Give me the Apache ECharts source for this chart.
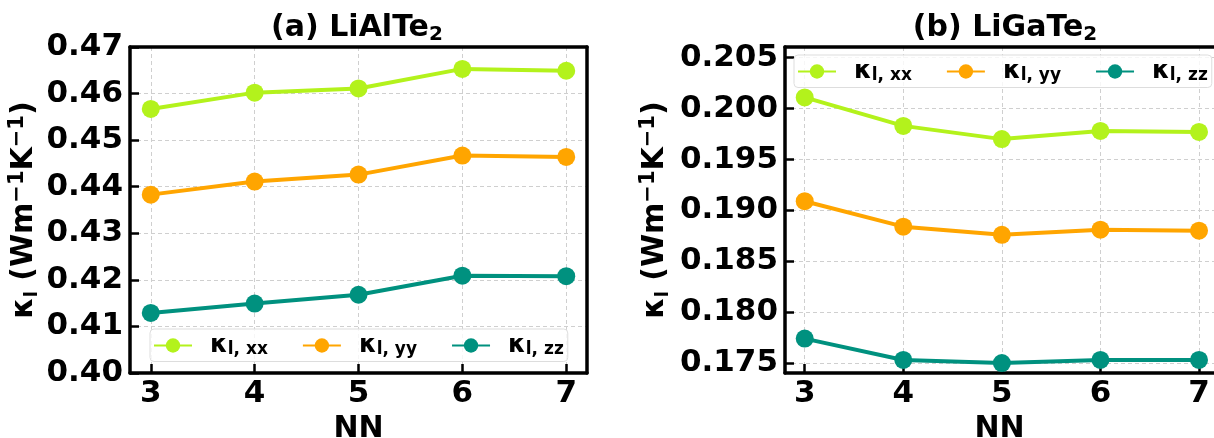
<!DOCTYPE html>
<html>
<head>
<meta charset="utf-8">
<script src="https://cdn.jsdelivr.net/npm/echarts@6/dist/echarts.min.js"></script>
<style>
html,body{margin:0;padding:0;background:#fff;}
#c{width:1214px;height:438px;}
</style>
</head>
<body>
<div id="c"></div>
<script>
// ---- data ----
const NN = [3, 4, 5, 6, 7];
const lialte_xx = [0.4567, 0.4602, 0.4611, 0.4653, 0.4649];
const lialte_yy = [0.4383, 0.4411, 0.4426, 0.4467, 0.4464];
const lialte_zz = [0.4129, 0.4149, 0.4168, 0.4209, 0.4208];
const ligate_xx = [0.2011, 0.1983, 0.1970, 0.1978, 0.1977];
const ligate_yy = [0.1909, 0.1884, 0.1876, 0.1881, 0.1880];
const ligate_zz = [0.1774, 0.1753, 0.1750, 0.1753, 0.1753];
const yTicksA = [0.40, 0.41, 0.42, 0.43, 0.44, 0.45, 0.46, 0.47];
const yTicksB = [0.175, 0.180, 0.185, 0.190, 0.195, 0.200, 0.205];
const colors = ['#b3f21c', '#ffa500', '#00917f'];

const font = '"DejaVu Sans", sans-serif';
const pairs = arr => NN.map((x, i) => [x, arr[i]]);
const frame = {show: true, onZero: false, lineStyle: {color: '#000', width: 3.5}};

function xAxisCfg(gi, max) {
  return {
    gridIndex: gi, type: 'value', min: 2.8, max: max, position: 'bottom',
    name: 'NN', nameLocation: 'middle', nameGap: 37,
    nameTextStyle: {fontFamily: font, fontWeight: 'bold', fontSize: 30, color: '#000'},
    axisLine: frame,
    axisTick: {show: true, inside: true, length: 9, customValues: NN, lineStyle: {color: '#000', width: 2.5}},
    axisLabel: {customValues: NN, fontFamily: font, fontWeight: 'bold', fontSize: 31, color: '#000', margin: 5},
    splitLine: {show: true, lineStyle: {color: '#cfcfcf', type: [4, 3], width: 1}}
  };
}
function topAxisCfg(gi, max) {
  return {
    gridIndex: gi, type: 'value', min: 2.8, max: max, position: 'top',
    axisLine: frame, axisTick: {show: false}, axisLabel: {show: false}, splitLine: {show: false}
  };
}
function yAxisCfg(gi, min, max, ticks, dec, gap) {
  return {
    gridIndex: gi, type: 'value', min: min, max: max, position: 'left',
    name: '{k|κ}{s|l}{k| (Wm}{p|−1}{k|K}{p|−1}{k|)}', nameLocation: 'middle', nameGap: gap, nameRotate: 90,
    nameTextStyle: {fontFamily: font, fontWeight: 'bold', fontSize: 30, color: '#000',
      rich: {k: {fontFamily: font, fontWeight: 'bold', fontSize: 30, color: '#000'},
             s: {fontFamily: font, fontWeight: 'bold', fontSize: 18, color: '#000', padding: [16, 0, 0, 0]},
             p: {fontFamily: font, fontWeight: 'bold', fontSize: 21, color: '#000', padding: [0, 0, 14, 0]}}},
    axisLine: frame,
    axisTick: {show: true, inside: true, length: 9, customValues: ticks, lineStyle: {color: '#000', width: 2.5}},
    axisLabel: {customValues: ticks, formatter: v => v.toFixed(dec), fontFamily: font, fontWeight: 'bold', fontSize: 31, color: '#000', margin: 7},
    splitLine: {show: true, lineStyle: {color: '#cfcfcf', type: [4, 3], width: 1}}
  };
}
function rightAxisCfg(gi, min, max) {
  return {
    gridIndex: gi, type: 'value', min: min, max: max, position: 'right',
    axisLine: frame, axisTick: {show: false}, axisLabel: {show: false}, splitLine: {show: false}
  };
}

const legendRich = {
  k: {fontFamily: font, fontWeight: 'bold', fontSize: 25, color: '#000', padding: [0, 0, 0, 13]},
  s: {fontFamily: font, fontWeight: 'bold', fontSize: 17, color: '#000', padding: [9, 0, 0, 0]}
};
function legendCfg(left, top, ids) {
  return {
    left: left, top: top, orient: 'horizontal',
    data: ids,
    itemWidth: 38, itemHeight: 18, itemGap: 34,
    backgroundColor: 'rgba(255,255,255,0.8)', borderColor: '#dddddd', borderWidth: 1, borderRadius: 4,
    padding: [4, 4, 3, 3],
    formatter: n => '{k|κ}{s|l, ' + n.split('_')[1] + '}',
    textStyle: {rich: legendRich}
  };
}

function lineSeries(id, xi, yi, data, color) {
  return {
    name: id, type: 'line', xAxisIndex: xi, yAxisIndex: yi, data: data,
    symbol: 'circle', symbolSize: 18, color: color,
    lineStyle: {width: 4, color: color}, itemStyle: {color: color},
    emphasis: {disabled: true}
  };
}

const titleStyle = {fontFamily: font, fontWeight: 'bold', fontSize: 30, color: '#000',
  rich: {s: {fontFamily: font, fontWeight: 'bold', fontSize: 20, color: '#000', padding: [14, 0, 0, 0]}}};

const chart = echarts.init(document.getElementById('c'), null, {renderer: 'canvas'});
chart.setOption({
  animation: false,
  title: [
    {text: '(a) LiAlTe{s|2}', left: 352, top: 6, textAlign: 'center', textStyle: titleStyle},
    {text: '(b) LiGaTe{s|2}', left: 1000, top: 6, textAlign: 'center', textStyle: titleStyle}
  ],
  grid: [
    {left: 130, top: 47, width: 457, height: 326, outerBoundsMode: 'none', containLabel: false, show: false},
    {left: 785, top: 47, width: 429, height: 326, outerBoundsMode: 'none', containLabel: false, show: false}
  ],
  xAxis: [xAxisCfg(0, 7.2), topAxisCfg(0, 7.2), xAxisCfg(1, 7.152), topAxisCfg(1, 7.152)],
  yAxis: [yAxisCfg(0, 0.40, 0.47, yTicksA, 2, 88), rightAxisCfg(0, 0.40, 0.47),
          yAxisCfg(1, 0.17402, 0.20605, yTicksB, 3, 112)],
  legend: [
    legendCfg(150, 329, ['a_xx', 'a_yy', 'a_zz']),
    legendCfg(794, 55, ['b_xx', 'b_yy', 'b_zz'])
  ],
  series: [
    lineSeries('a_xx', 0, 0, pairs(lialte_xx), colors[0]),
    lineSeries('a_yy', 0, 0, pairs(lialte_yy), colors[1]),
    lineSeries('a_zz', 0, 0, pairs(lialte_zz), colors[2]),
    lineSeries('b_xx', 2, 2, pairs(ligate_xx), colors[0]),
    lineSeries('b_yy', 2, 2, pairs(ligate_yy), colors[1]),
    lineSeries('b_zz', 2, 2, pairs(ligate_zz), colors[2])
  ]
});
</script>
</body>
</html>
